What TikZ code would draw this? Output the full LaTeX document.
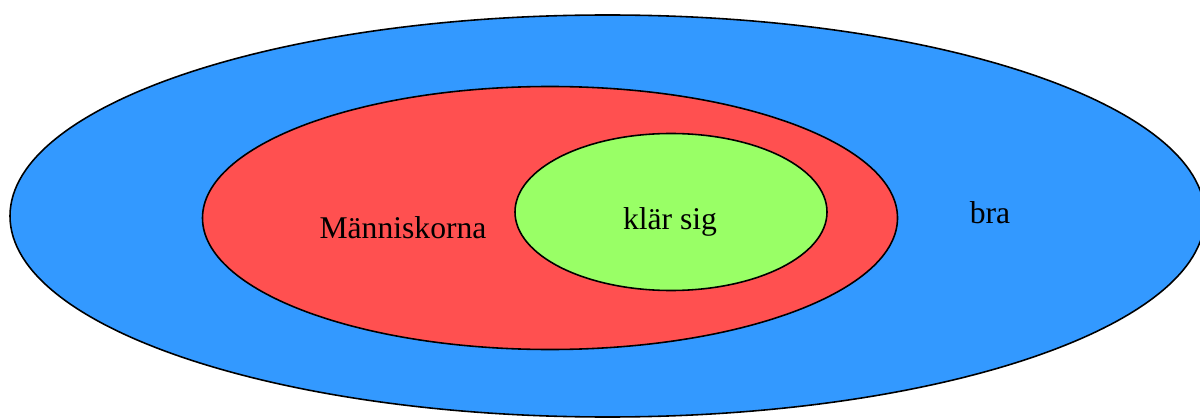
\documentclass[tikz,border=0pt]{standalone}
\usepackage{fontspec}
\setmainfont{Liberation Serif}
\usetikzlibrary{shapes.geometric}
\definecolor{brac}{RGB}{51,153,255}
\definecolor{manc}{RGB}{255,80,80}
\definecolor{klac}{RGB}{153,255,102}
\tikzset{set/.style={draw=black, line width=0.9pt, shape=ellipse, inner sep=0pt}}

\begin{document}
\begin{tikzpicture}[scale=1.0]
\useasboundingbox (0cm,0cm) rectangle (24cm,8.34cm);
\node[set, fill=brac, minimum width=23.9cm, minimum height=8.04cm]
(bra) at (12.15cm,4.02cm) {};
\node[set, fill=manc, minimum width=13.9cm, minimum height=5.26cm]
(man) at (11.0cm,3.98cm) {};
\node[set, fill=klac, minimum width=6.24cm, minimum height=3.14cm]
(kla) at (13.42cm,4.10cm) {};

\node[font=\fontsize{18}{21}\selectfont] (bratext) at (19.8cm,4.08cm) {bra};
\node[font=\fontsize{18}{21}\selectfont] (mantext) at (8.06cm,3.78cm) {Människorna};
\node[font=\fontsize{18}{21}\selectfont] (klatext) at (13.4cm,3.90cm) {klär sig};

\end{tikzpicture}
\end{document}
